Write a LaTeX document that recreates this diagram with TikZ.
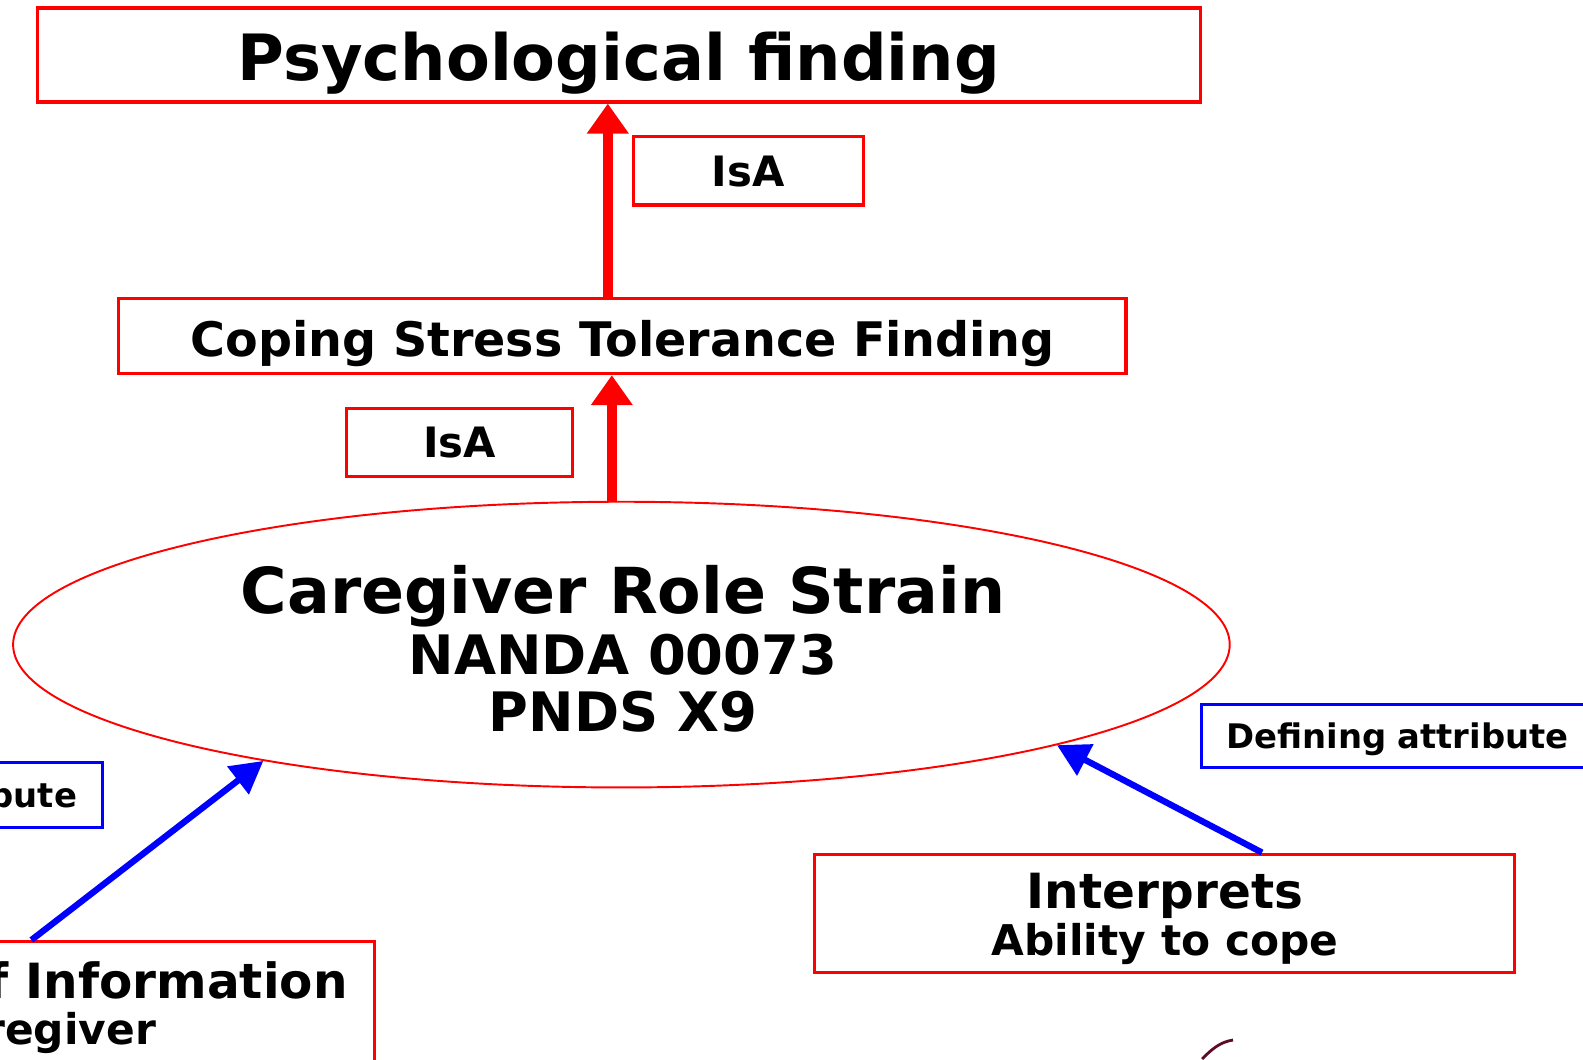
\documentclass[tikz,border=0pt]{standalone}
\usepackage{fontspec}
\setmainfont{DejaVu Sans}
\usepackage{tikz}
\usepackage{color}
\usetikzlibrary{arrows.meta,shapes.geometric}

\definecolor{boxred}{RGB}{255,0,0}
\definecolor{linkblue}{RGB}{0,0,255}
\definecolor{markred}{RGB}{95,10,40}

\tikzset{
  redbox/.style={draw=boxred, line width=0.9pt, inner sep=0pt},
  bluebox/.style={draw=linkblue, line width=0.9pt, inner sep=0pt},
  isalink/.style={draw=boxred, line width=2.8pt, -{Triangle[length=0.3cm,width=0.4cm]}},
  attrlink/.style={draw=linkblue, line width=1.8pt, -{Triangle[length=0.32cm,width=0.34cm]}},
  bigfont/.style={font=\bfseries\fontsize{18.04}{20}\selectfont},
  codefont/.style={font=\bfseries\fontsize{15.47}{17}\selectfont},
  midfont/.style={font=\bfseries\fontsize{13.8}{16}\selectfont},
  smallfont/.style={font=\bfseries\fontsize{12.05}{14}\selectfont},
  isafont/.style={font=\bfseries\fontsize{11.9}{14}\selectfont, text height=8.7pt, text depth=0pt},
  attrfont/.style={font=\bfseries\fontsize{9.63}{11}\selectfont, text height=7pt, text depth=0pt}
}

\begin{document}
\begin{tikzpicture}
% Drawing environment
\useasboundingbox (0,0) rectangle (15.83,10.59);
\clip (0,0) rectangle (15.83,10.59);
\fill[white] (0,0) rectangle (15.83,10.59);

% Draw concept boxes
\node[redbox, font=\bfseries\fontsize{18.16}{20}\selectfont, text height=14.5pt, text depth=0pt, minimum width=11.63cm, minimum height=0.94cm] (psych) at (6.187,10.04) {Psychological finding};
\node[redbox, font=\bfseries\fontsize{13.54}{16}\selectfont, text height=11.5pt, text depth=0pt, minimum width=10.07cm, minimum height=0.748cm] (coping) at (6.224,7.228) {Coping Stress Tolerance Finding};

% Label IsA nodes
\node[redbox, isafont, minimum width=2.30cm, minimum height=0.683cm] (isa1) at (7.483,8.882) {IsA};
\node[redbox, isafont, minimum width=2.256cm, minimum height=0.684cm] (isa2) at (4.595,6.165) {IsA};

% Draw diagnosis
\node[ellipse, draw=boxred, line width=0.55pt, inner sep=0pt, minimum width=12.166cm, minimum height=2.857cm] (strain) at (6.214,4.144) {};
\node[bigfont, inner sep=0pt, anchor=base] (strain1) at (6.23,4.453) {Caregiver Role Strain};
\node[codefont, inner sep=0pt, anchor=base] (strain2) at (6.23,3.85) {NANDA 00073};
\node[codefont, inner sep=0pt, anchor=base] (strain3) at (6.23,3.274) {PNDS X9};

% Draw attribute labels
\node[bluebox, attrfont, inner xsep=0.246cm, text width=3.9cm, align=left, minimum height=0.626cm, anchor=west] (defright) at (12.0,3.23) {Defining attribute};
\node[bluebox, attrfont, inner xsep=0.253cm, text width=3.5cm, align=right, minimum height=0.657cm, anchor=east] (defleft) at (1.04,2.64) {bute};

% Draw finding boxes
\node[redbox, minimum width=6.997cm, minimum height=1.181cm] (interp) at (11.646,1.458) {};
\node[midfont, inner sep=0pt, anchor=base] (interp1) at (11.65,1.508) {Interprets};
\node[smallfont, inner sep=0pt, anchor=base] (interp2) at (11.65,1.04) {Ability to cope};
\node[redbox, minimum width=6.854cm, minimum height=1.9cm, anchor=north east] (source) at (3.757,1.19) {};
\node[midfont, inner sep=0pt, anchor=base east] (source1) at (3.483,0.607) {f Information};
\node[smallfont, inner sep=0pt, anchor=base east] (source2) at (1.567,0.15) {regiver};

% Draw IsA arrows
\draw[isalink] ([xshift=-0.146cm]coping.north) -- ([xshift=-0.146cm]coping.north |- psych.south);
\draw[isalink] ([xshift=-0.096cm]strain.north) -- ([xshift=-0.096cm]strain.north |- coping.south);

% Draw attribute arrows
\draw[attrlink] (source.north) -- (strain.198.6);
\draw[attrlink] ([xshift=0.974cm]interp.north) -- (strain.347.47);

% Stray mark
\draw[markred, line width=0.8pt] (12.02,0.0) .. controls (12.12,0.1) and (12.2,0.17) .. (12.33,0.19);
\end{tikzpicture}
\end{document}
